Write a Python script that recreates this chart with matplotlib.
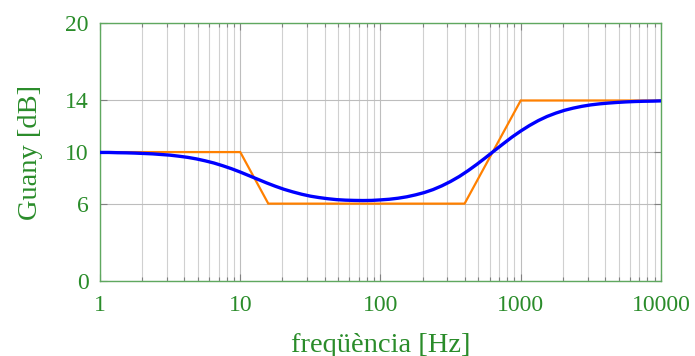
import matplotlib
matplotlib.use("Agg")
import matplotlib.pyplot as plt
import numpy as np
from matplotlib.ticker import FixedLocator, LogLocator, NullFormatter

# Asymptotic (orange) Bode approximation
asym_f = [1, 10, 15.85, 398, 1000, 10000]
asym_db = [10, 10, 6, 6, 14, 14]

# Real gain (blue), read every 1/16 decade from 1 Hz to 10 kHz
real_f = [1, 1.155, 1.334, 1.540, 1.778, 2.054, 2.371, 2.738, 3.162,
          3.652, 4.217, 4.870, 5.623, 6.494, 7.499, 8.660, 10,
          11.55, 13.34, 15.40, 17.78, 20.54, 23.71, 27.38, 31.62,
          36.52, 42.17, 48.70, 56.23, 64.94, 74.99, 86.60, 100,
          115.5, 133.4, 154.0, 177.8, 205.4, 237.1, 273.8, 316.2,
          365.2, 421.7, 487.0, 562.3, 649.4, 749.9, 866.0, 1000,
          1155, 1334, 1540, 1778, 2054, 2371, 2738, 3162,
          3652, 4217, 4870, 5623, 6494, 7499, 8660, 10000]
real_db = [9.97, 9.97, 9.95, 9.94, 9.92, 9.89, 9.86, 9.81, 9.76,
           9.68, 9.59, 9.47, 9.32, 9.15, 8.94, 8.71, 8.45,
           8.17, 7.89, 7.61, 7.35, 7.11, 6.91, 6.73, 6.58,
           6.47, 6.38, 6.31, 6.27, 6.25, 6.24, 6.25, 6.29,
           6.34, 6.42, 6.53, 6.68, 6.86, 7.09, 7.38, 7.72,
           8.11, 8.56, 9.05, 9.57, 10.11, 10.64, 11.16, 11.63,
           12.06, 12.44, 12.76, 13.02, 13.24, 13.41, 13.55, 13.66,
           13.74, 13.80, 13.85, 13.89, 13.92, 13.94, 13.95, 13.97]

x_ticks = [1, 10, 100, 1000, 10000]
x_ticklabels = ["1", "10", "100", "1000", "10000"]
y_ticks = [0, 6, 10, 14, 20]
y_ticklabels = ["0", "6", "10", "14", "20"]

green = "#2a8c2a"
spine_green = "#5fa85f"
plt.rcParams['font.family'] = ['Liberation Serif', 'DejaVu Serif']

fig = plt.figure(figsize=(6.95, 3.56), dpi=100)
ax = fig.add_axes([0.1439, 0.2107, 0.8071, 0.7243])

ax.set_xscale('log')
ax.set_xlim(1, 10000)
ax.set_ylim(0, 20)

ax.plot(asym_f, asym_db, color="#ff8000", lw=1.6, zorder=3,
        solid_joinstyle='miter')
ax.plot(real_f, real_db, color="#0000ff", lw=2.4, zorder=4,
        solid_joinstyle='round', solid_capstyle='round')

ax.xaxis.set_major_locator(FixedLocator(x_ticks))
ax.set_xticklabels(x_ticklabels)
ax.xaxis.set_minor_locator(LogLocator(base=10, subs=np.arange(2, 10)))
ax.xaxis.set_minor_formatter(NullFormatter())
ax.set_yticks(y_ticks)
ax.set_yticklabels(y_ticklabels)

ax.grid(True, which='major', axis='both', color="#bdbdbd", lw=0.8)
ax.grid(True, which='minor', axis='x', color="#d0d0d0", lw=0.8)
ax.set_axisbelow(True)

ax.tick_params(which='both', direction='in', top=True, right=True,
               color="#808080", labelcolor=green, labelsize=17)
ax.tick_params(axis='x', which='both', pad=10)
ax.tick_params(axis='y', which='both', pad=8)
ax.tick_params(which='major', length=5, width=0.8)
ax.tick_params(which='minor', length=3, width=0.8)

for s in ax.spines.values():
    s.set_color(spine_green)
    s.set_linewidth(1.0)

ax.set_xlabel("freqüència [Hz]", color=green, fontsize=20.5, labelpad=12)
ax.set_ylabel("Guany [dB]", color=green, fontsize=20.5, labelpad=16)

fig.savefig("out.png", dpi=100)
